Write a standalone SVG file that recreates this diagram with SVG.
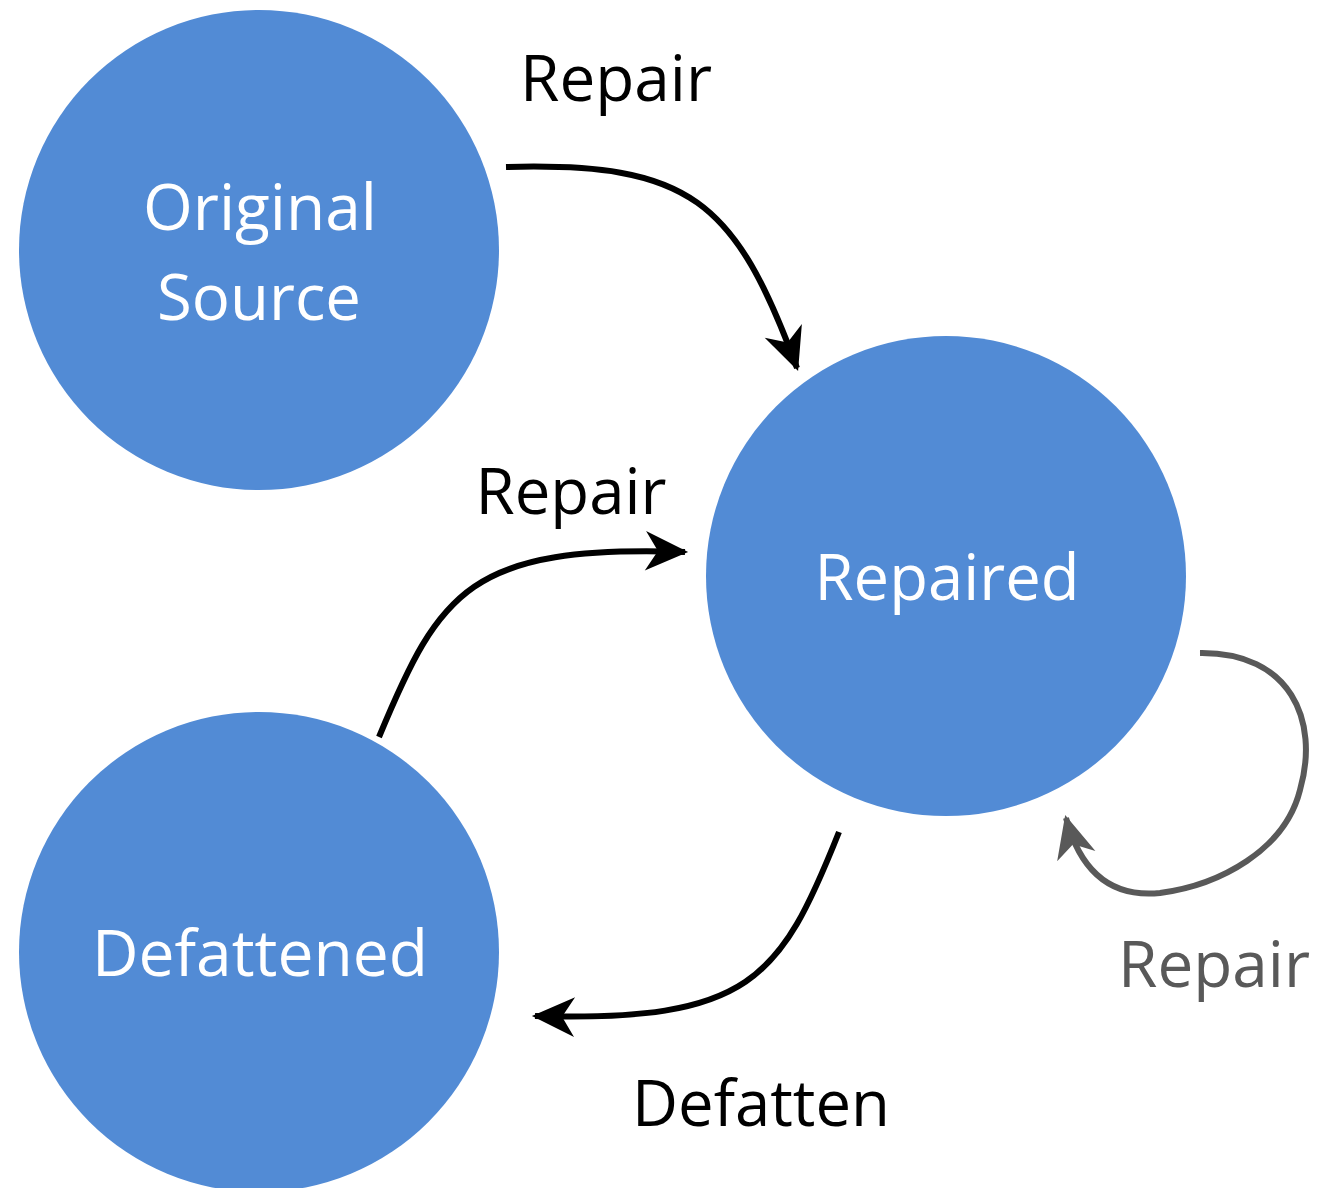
<svg xmlns="http://www.w3.org/2000/svg" width="1317" height="1188" viewBox="0 0 1317 1188">
<style>
.node{fill:#528BD5;}
.nl{fill:#FFFFFF;font-family:"Open Sans","Liberation Sans",sans-serif;font-size:64px;text-anchor:middle;}
.el{fill:#000000;font-family:"Open Sans","Liberation Sans",sans-serif;font-size:64px;text-anchor:middle;}
.edge{fill:none;stroke:#000000;stroke-width:6;}
.gray{stroke:#595959;}
</style>
<defs>
<marker id="ah" markerUnits="userSpaceOnUse" markerWidth="50" markerHeight="50" viewBox="-44 -22 48 44" refX="0" refY="0" orient="auto">
<path d="M3,0 L-38,-19 L-26,0 L-38,19 Z" fill="#000000"/>
</marker>
<marker id="ahg" markerUnits="userSpaceOnUse" markerWidth="50" markerHeight="50" viewBox="-44 -22 48 44" refX="0" refY="0" orient="auto">
<path d="M3,0 L-38,-19 L-26,0 L-38,19 Z" fill="#595959"/>
</marker>
</defs>
<rect width="1317" height="1188" fill="#FFFFFF"/>
<g id="node-original">
<circle class="node" cx="259" cy="250" r="240"/>
<text class="nl" x="260" y="230" textLength="234" lengthAdjust="spacingAndGlyphs">Original</text>
<text class="nl" x="259" y="320" textLength="204" lengthAdjust="spacingAndGlyphs">Source</text>
</g>
<g id="node-repaired">
<circle class="node" cx="946" cy="576" r="240"/>
<text class="nl" x="947" y="600" textLength="265" lengthAdjust="spacingAndGlyphs">Repaired</text>
</g>
<g id="node-defattened">
<circle class="node" cx="259" cy="952" r="240"/>
<text class="nl" x="260" y="976" textLength="336" lengthAdjust="spacingAndGlyphs">Defattened</text>
</g>
<g id="connectors">
<path class="edge" d="M506,167 C690,162 735,200 797,368" marker-end="url(#ah)"/>
<path class="edge" d="M379,737 C440,590 470,545 685,552" marker-end="url(#ah)"/>
<path class="edge" d="M839,832 C780,980 750,1022 535,1016" marker-end="url(#ah)"/>
<path class="edge gray" d="M1200,653 C1290,652 1320,720 1300,790 C1285,850 1220,885 1160,893 C1110,898 1080,870 1066,818" marker-end="url(#ahg)"/>
<text class="el" x="616" y="101" textLength="192" lengthAdjust="spacingAndGlyphs">Repair</text>
<text class="el" x="571" y="514" textLength="191" lengthAdjust="spacingAndGlyphs">Repair</text>
<text class="el" x="761" y="1126" textLength="258" lengthAdjust="spacingAndGlyphs">Defatten</text>
<text class="el" x="1214" y="987" style="fill:#595959" textLength="192" lengthAdjust="spacingAndGlyphs">Repair</text>
</g>
</svg>
